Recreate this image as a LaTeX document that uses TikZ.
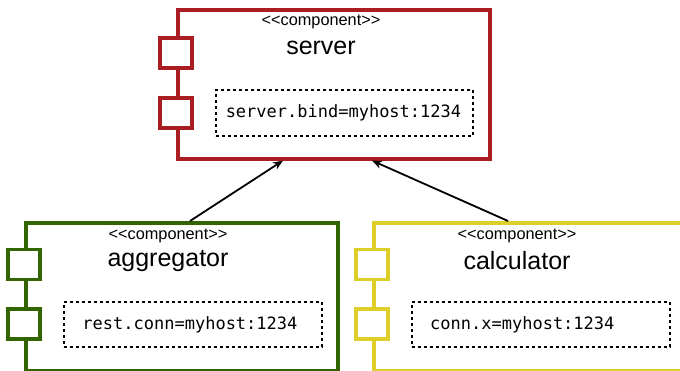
\documentclass[tikz,border=0pt]{standalone}
\usepackage{fontspec}
\setmainfont{Liberation Sans}
\newfontfamily\monofont{DejaVu Sans Mono}
\usetikzlibrary{arrows.meta}
\definecolor{cred}{RGB}{170,30,35}
\definecolor{cgreen}{RGB}{50,100,0}
\definecolor{cyellow}{RGB}{222,206,40}
\newcommand{\stereotxt}{<\kern0pt<component>\kern0pt>}
\tikzset{
  comp/.style={draw=#1, line width=3.6pt, fill=white, anchor=north west, inner sep=0pt},
  port/.style={draw=#1, line width=3.6pt, fill=white, minimum width=32pt, minimum height=30pt, inner sep=0pt},
  stereo/.style={font=\fontsize{16.3}{17}\selectfont},
  cname/.style={font=\fontsize{25}{28}\selectfont},
  prop/.style={draw=black, line width=1.9pt, dash pattern=on 3pt off 3pt, anchor=north west, inner sep=0pt},
  mono/.style={font=\monofont\fontsize{17}{19}\selectfont},
  conn/.style={line width=1.8pt, -{Stealth[length=10pt,width=8pt]}}
}
\begin{document}
\begin{tikzpicture}[x=1pt,y=-1pt]
\useasboundingbox (0,0) rectangle (680,371);
\clip (0,0) rectangle (680,371);
% server
\node[comp=cred, minimum width=312pt, minimum height=149pt] (srv) at (176,8) {};
\node[port=cred] (srvp1) at (176,53) {};
\node[port=cred] (srvp2) at (176,113) {};
\node[stereo] (srvs) at (321,22) {\stereotxt};
\node[cname] (srvn) at (321,48) {server};
\node[prop, minimum width=257pt, minimum height=46pt] (srvb) at (215,89) {};
\node[mono] (srvt) at ([xshift=-1pt]srvb.center) {server.bind=myhost:1234};
% aggregator
\node[comp=cgreen, minimum width=312pt, minimum height=148pt] (agg) at (24,221) {};
\node[port=cgreen] (aggp1) at (24,264.5) {};
\node[port=cgreen] (aggp2) at (24,324) {};
\node[stereo] (aggs) at (168,236) {\stereotxt};
\node[cname] (aggn) at (168,261) {aggregator};
\node[prop, minimum width=258pt, minimum height=45pt] (aggb) at (63,301) {};
\node[mono] (aggt) at ([xshift=-3pt]aggb.center) {rest.conn=myhost:1234};
% calculator
\node[comp=cyellow, minimum width=312pt, minimum height=148pt] (calc) at (372,221) {};
\node[port=cyellow] (calcp1) at (372,264.5) {};
\node[port=cyellow] (calcp2) at (372,324) {};
\node[stereo] (calcs) at (517,236) {\stereotxt};
\node[cname] (calcn) at (517,261) {calculator};
\node[prop, minimum width=258pt, minimum height=45pt] (calcb) at (411,301) {};
\node[mono, anchor=west, inner sep=0pt] (calct) at ([xshift=19pt]calcb.west) {conn.x=myhost:1234};
% connectors
\coordinate (a1) at ([xshift=166pt]agg.north west);
\coordinate (a2) at ([xshift=107pt]srv.south west);
\coordinate (c1) at ([xshift=136pt]calc.north west);
\coordinate (c2) at ([xshift=196pt]srv.south west);
\draw[conn] (a1) -- (a2);
\draw[conn] (c1) -- (c2);
\end{tikzpicture}
\end{document}
